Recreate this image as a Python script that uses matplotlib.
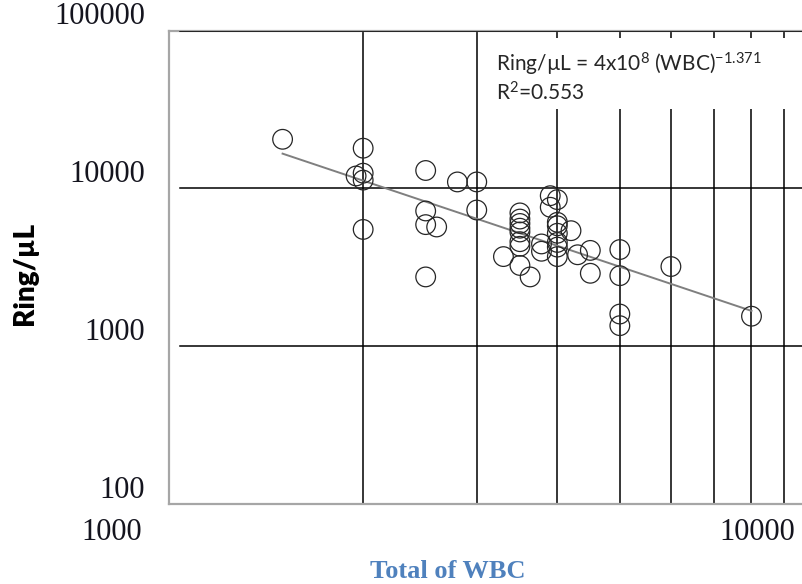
import numpy as np
import matplotlib
matplotlib.use("Agg")
import matplotlib.pyplot as plt
from matplotlib.patches import Rectangle

# ---- data ----
wbc = [1500, 2000, 1950, 2000, 2000, 2000, 2500, 2800, 3000, 2500, 2500, 2600, 2500,
       3000, 3300, 3500, 3500, 3500, 3500, 3500, 3500, 3500, 3500, 3630, 3780, 3780,
       3900, 4000, 3900, 4000, 4000, 4000, 4000, 4000, 4000, 4200, 4300, 4500, 4500,
       5000, 5000, 6000, 5000, 5000, 8000]
ring = [20500, 18000, 12000, 12500, 11300, 5500, 13000, 11000, 11000, 7200, 5900, 5700, 2750,
        7300, 3700, 7000, 6400, 6000, 5600, 5300, 4600, 4300, 3250, 2750, 4450, 4000,
        9000, 8500, 7600, 6100, 5800, 5200, 4550, 4250, 3700, 5400, 3800, 4050, 2900,
        4100, 2800, 3200, 1600, 1350, 1550]

trend_a = 3.76e8
trend_b = -1.371

x_ticks = [1000, 10000]
x_tick_labels = ["1000", "10000"]
y_ticks = [100, 1000, 10000, 100000]
y_tick_labels = ["100", "1000", "10000", "100000"]
x_grid = [2000, 3000, 4000, 5000, 6000, 7000, 8000, 9000]
y_grid = [1000, 10000, 100000]

eq_line1 = r"Ring/µL = 4x10$^{8}$ (WBC)$^{-1.371}$"
eq_line2 = r"R$^{2}$=0.553"
x_title = "Total of WBC"
y_title = "Ring/µL"

# ---- figure ----
plt.rcParams["mathtext.fontset"] = "custom"
plt.rcParams["mathtext.rm"] = "Lato"
plt.rcParams["mathtext.it"] = "Lato:italic"

W, H = 803, 584
fig = plt.figure(figsize=(W / 100, H / 100), dpi=100)
ax_l, ax_r, ax_t, ax_b = 169, 814, 30.7, 504
ax = fig.add_axes([ax_l / W, (H - ax_b) / H, (ax_r - ax_l) / W, (ax_b - ax_t) / H])
ax.set_xscale("log")
ax.set_yscale("log")
ax.set_xlim(1000, 10000)
ax.set_ylim(100, 100000)

for xv in x_grid:
    ax.axvline(xv, color="black", lw=1.1, zorder=0.5)
for yv in y_grid:
    ax.axhline(yv, xmin=11 / (ax_r - ax_l), color="black", lw=1.1, zorder=2.6)

ax.set_xticks([])
ax.set_yticks([])
ax.minorticks_off()
ax.tick_params(which="both", length=0, labelbottom=False, labelleft=False)

for s in ["left", "bottom", "top"]:
    ax.spines[s].set_color("#a6a6a6")
    ax.spines[s].set_linewidth(1.6)
ax.spines["right"].set_visible(False)

# white box behind the equation
ax.add_patch(Rectangle(((485 - ax_l) / (ax_r - ax_l), (ax_b - 109) / (ax_b - ax_t)),
                       (800 - 485) / (ax_r - ax_l), (109 - 38) / (ax_b - ax_t),
                       transform=ax.transAxes, facecolor="white", edgecolor="none", zorder=1))

# trend line
xs = np.array([min(wbc), max(wbc)], dtype=float)
ax.plot(xs, trend_a * xs ** trend_b, color="#7f7f7f", lw=1.4, zorder=2.7)

# scatter
ax.scatter(wbc, ring, s=200, facecolors="none", edgecolors="#262626", linewidths=0.9, zorder=3)

# equation text
ax.text((496 - ax_l) / (ax_r - ax_l), (ax_b - 64) / (ax_b - ax_t), eq_line1,
        transform=ax.transAxes, ha="left", va="center", fontsize=15, family="Lato",
        color="#262626", zorder=4)
ax.text((496 - ax_l) / (ax_r - ax_l), (ax_b - 93) / (ax_b - ax_t), eq_line2,
        transform=ax.transAxes, ha="left", va="center", fontsize=15, family="Lato",
        color="#262626", zorder=4)

# tick labels (offset as in the original)
tick_font = dict(family="Liberation Serif", fontsize=22, color="#14141e")
for v, lab in zip(y_ticks, y_tick_labels):
    ax.annotate(lab, xy=(0, v), xycoords=("axes fraction", "data"),
                xytext=(-24 * 0.72, 14 * 0.72), textcoords="offset points",
                ha="right", va="center", annotation_clip=False, **tick_font)
for v, lab in zip(x_ticks, x_tick_labels):
    ax.annotate(lab, xy=(v, 0), xycoords=("data", "axes fraction"),
                xytext=(-57 * 0.72, -28 * 0.72), textcoords="offset points",
                ha="center", va="center", annotation_clip=False, **tick_font)

fig.text(25 / W, 1 - 273 / H, y_title, rotation=90, ha="center", va="center",
         fontsize=20, family="Lato", fontweight="heavy", color="black")
fig.text(448 / W, 1 - 572 / H, x_title, ha="center", va="center",
         fontsize=19, family="Liberation Serif", fontweight="bold", color="#4f81bd")

fig.savefig("out.png", dpi=100)
